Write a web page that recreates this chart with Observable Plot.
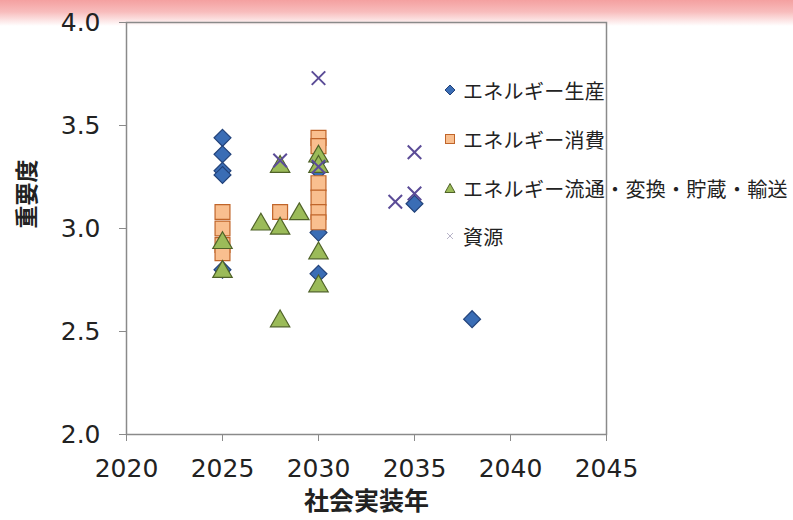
<!DOCTYPE html>
<html><head><meta charset="utf-8">
<script src="https://cdn.jsdelivr.net/npm/d3@7"></script>
<script src="https://cdn.jsdelivr.net/npm/@observablehq/plot@0.6"></script>
<style>
body{margin:0;background:#fff;}
#wrap{position:relative;width:793px;height:520px;overflow:hidden;}
#band{position:absolute;left:0;top:0;width:793px;height:26px;background:linear-gradient(#f4a0a0 0%,#f8bcbc 45%,#ffffff 100%);}
#chart{position:absolute;left:0;top:0;}
#legend{position:absolute;left:444px;top:0;font-family:"Noto Sans CJK JP",sans-serif;font-size:20px;letter-spacing:0.3px;color:#222;}
.item{position:absolute;left:0;white-space:nowrap;display:flex;align-items:center;height:28px;}
.item svg{margin-right:7px;}
</style></head>
<body><div id="wrap"><div id="band"></div><div id="chart"></div><div id="legend"></div></div>
<script>
const seriesNames = ["エネルギー生産","エネルギー消費","エネルギー流通・変換・貯蔵・輸送","資源"];
const prodYears  = [2025,2025,2025,2025,2025,2030,2030,2030,2030,2035,2038];
const prodValues = [3.44,3.36,3.28,3.26,2.80,3.33,3.28,2.98,2.78,3.12,2.56];
const consYears  = [2025,2025,2025,2025,2028,2030,2030,2030,2030,2030,2030];
const consValues = [3.08,3.00,2.92,2.88,3.08,3.44,3.40,3.22,3.15,3.08,3.03];
const distYears  = [2025,2025,2027,2028,2028,2028,2029,2030,2030,2030,2030];
const distValues = [2.93,2.79,3.02,3.30,3.00,2.55,3.07,3.35,3.30,2.88,2.72];
const resYears   = [2028,2030,2030,2034,2035,2035];
const resValues  = [3.33,3.73,3.30,3.13,3.37,3.17];
const xTicks = [2020,2025,2030,2035,2040,2045];
const yTicks = [2.0,2.5,3.0,3.5,4.0];
const xLabel = "社会実装年";
const yLabel = "重要度";

const styles = [
  {symbol:"diamond2", fill:"#3A6DB5", stroke:"#22427A", r:7.6},
  {symbol:"square",   fill:"#F9BF8F", stroke:"#C0652A", r:8.4},
  {symbol:"triangle", fill:"#9BBB59", stroke:"#4F6228", r:7.2},
  {symbol:"times",    fill:"none",    stroke:"#5B4C97", r:6.2}
];
const toRows = (ys, vs) => ys.map((y,i)=>({year:y, value:vs[i]}));
const sets = [toRows(prodYears,prodValues),toRows(consYears,consValues),toRows(distYears,distValues),toRows(resYears,resValues)];

const jp = '"Noto Sans CJK JP",sans-serif';
const chart = Plot.plot({
  width:793, height:520,
  marginLeft:126, marginRight:187, marginTop:22, marginBottom:86,
  style:{background:"transparent", fontFamily:'"DejaVu Sans",sans-serif', fontSize:"24px", color:"#222"},
  x:{domain:[2020,2045]},
  y:{domain:[2,4]},
  marks:[
    Plot.frame({stroke:"#8a8a8a", strokeWidth:1.5}),
    Plot.axisX({ticks:xTicks, tickFormat:d=>String(d), tickSize:7, tickPadding:18, stroke:"#8a8a8a", label:null, fontSize:25}),
    Plot.axisY({ticks:yTicks, tickFormat:d3.format(".1f"), tickSize:7, tickPadding:19, stroke:"#8a8a8a", label:null, fontSize:25}),
    ...sets.map((data,i)=>Plot.dot(data,{x:"year", y:"value", symbol:styles[i].symbol, r:styles[i].r, fill:styles[i].fill, stroke:styles[i].stroke, strokeWidth:i===3?2:1.2, fillOpacity:1})),
    Plot.text([yLabel],{frameAnchor:"left", dx:-99, rotate:-90, fontFamily:jp, fontWeight:"bold", fontSize:23, fill:"#222"}),
    Plot.text([xLabel],{frameAnchor:"bottom", dy:75, fontFamily:jp, fontWeight:"bold", fontSize:25, fill:"#222"})
  ]
});
document.getElementById("chart").appendChild(chart);

// legend
const legendMarks = [
  '<polygon points="5,0 10,5 5,10 0,5" fill="#3A6DB5" stroke="#22427A" stroke-width="1"/>',
  '<rect x="0.5" y="0.5" width="9" height="9" fill="#F9BF8F" stroke="#C0652A" stroke-width="1"/>',
  '<polygon points="5,0.5 10,9.5 0,9.5" fill="#9BBB59" stroke="#4F6228" stroke-width="1"/>',
  '<path d="M2,2 L8,8 M2,8 L8,2" stroke="#b8b4c8" stroke-width="1"/>'
];
const rowCenters = [90,139,188,236];
const legend = document.getElementById("legend");
seriesNames.forEach((name,i)=>{
  const d = document.createElement("div");
  d.className = "item";
  d.style.top = (rowCenters[i]-14)+"px";
  d.innerHTML = `<svg width="12" height="10" viewBox="-1 0 12 10">${legendMarks[i]}</svg><span>${name}</span>`;
  legend.appendChild(d);
});
</script></body></html>
